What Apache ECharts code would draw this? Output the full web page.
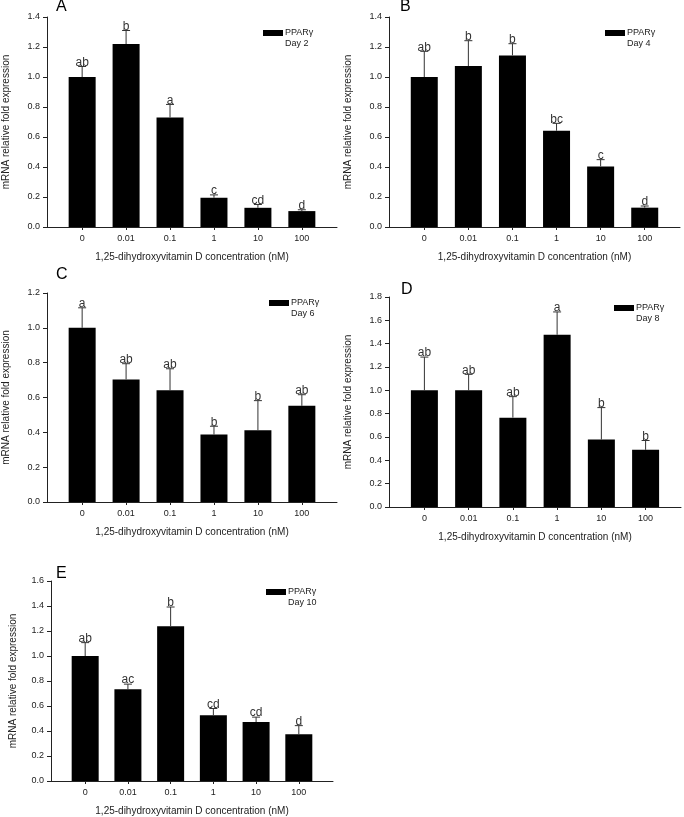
<!DOCTYPE html>
<html>
<head>
<meta charset="utf-8">
<script src="https://cdn.jsdelivr.net/npm/echarts@6/dist/echarts.min.js"></script>
<style>
  html, body { margin: 0; padding: 0; background: #fff; }
  #chart { width: 684px; height: 817px; }
</style>
</head>
<body>
<div id="chart"></div>
<script>
// concentrations (nM)
const categories = ['0', '0.01', '0.1', '1', '10', '100'];

// panel A - day 2
const meanA = [1.00, 1.22, 0.73, 0.195, 0.128, 0.106];
const seA   = [0.07, 0.09, 0.087, 0.019, 0.022, 0.009];
const sigA  = ['ab', 'b', 'a', 'c', 'cd', 'd'];
// panel B - day 4
const meanB = [1.00, 1.073, 1.144, 0.642, 0.404, 0.129];
const seB   = [0.171, 0.169, 0.078, 0.049, 0.045, 0.011];
const sigB  = ['ab', 'b', 'b', 'bc', 'c', 'd'];
// panel C - day 6
const meanC = [1.00, 0.704, 0.641, 0.387, 0.412, 0.552];
const seC   = [0.115, 0.09, 0.124, 0.048, 0.17, 0.064];
const sigC  = ['a', 'ab', 'ab', 'b', 'b', 'ab'];
// panel D - day 8
const meanD = [1.00, 1.00, 0.766, 1.476, 0.578, 0.49];
const seD   = [0.285, 0.137, 0.18, 0.196, 0.274, 0.08];
const sigD  = ['ab', 'ab', 'ab', 'a', 'b', 'b'];
// panel E - day 10
const meanE = [1.00, 0.735, 1.239, 0.527, 0.472, 0.374];
const seE   = [0.107, 0.04, 0.153, 0.053, 0.039, 0.069];
const sigE  = ['ab', 'ac', 'b', 'cd', 'cd', 'd'];

const tags = ['A', 'B', 'C', 'D', 'E'];
const days = ['Day 2', 'Day 4', 'Day 6', 'Day 8', 'Day 10'];
const yMaxes = [1.4, 1.4, 1.2, 1.8, 1.6];
const means = [meanA, meanB, meanC, meanD, meanE];
const errs = [seA, seB, seC, seD, seE];
const sigs = [sigA, sigB, sigC, sigD, sigE];

// layout of each panel (pixels)
const layout = [
  { left: 46,  top: 17,  width: 291, height: 210, tagX: 56,  tagY: -1,  legX: 263, legY: 30,  nameGap: 36 },
  { left: 389, top: 17,  width: 291, height: 210, tagX: 400, tagY: -1,  legX: 605, legY: 30,  nameGap: 36 },
  { left: 46,  top: 293, width: 291, height: 209, tagX: 56,  tagY: 267, legX: 269, legY: 300, nameGap: 36 },
  { left: 389, top: 297, width: 292, height: 210, tagX: 401, tagY: 282, legX: 614, legY: 305, nameGap: 36 },
  { left: 51,  top: 581, width: 282, height: 202, tagX: 56,  tagY: 566, legX: 266, legY: 589, nameGap: 33 }
];

const font = 'Liberation Sans, Arial, sans-serif';
const ink = '#222';
const tickPos = categories.map((c, i) => i);

const grid = [], xAxis = [], yAxis = [], series = [], graphic = [];

layout.forEach((L, p) => {
  grid.push({ left: L.left, top: L.top, width: L.width, height: L.height, containLabel: false });
  xAxis.push({
    type: 'value', gridIndex: p, min: -0.8, max: 5.8,
    name: '1,25-dihydroxyvitamin D concentration (nM)',
    nameLocation: 'middle', nameGap: 25,
    nameTextStyle: { fontFamily: font, fontSize: 10, color: ink },
    axisLine: { onZero: false, lineStyle: { color: ink, width: 1 } },
    axisTick: { show: true, customValues: tickPos, length: 3, lineStyle: { color: ink } },
    axisLabel: { customValues: tickPos, formatter: v => categories[Math.round(v)], fontFamily: font, fontSize: 9, color: ink, margin: 7 },
    splitLine: { show: false }
  });
  yAxis.push({
    type: 'value', gridIndex: p, min: 0, max: yMaxes[p], interval: 0.2,
    name: 'mRNA relative fold expression',
    nameLocation: 'middle', nameGap: L.nameGap,
    nameTextStyle: { fontFamily: font, fontSize: 10, color: ink },
    axisLine: { show: true, onZero: false, lineStyle: { color: ink, width: 1 } },
    axisTick: { show: true, length: 4, lineStyle: { color: ink } },
    axisLabel: { formatter: v => v.toFixed(1), fontFamily: font, fontSize: 9, color: ink, margin: 7 },
    splitLine: { show: false }
  });

  const mean = means[p], se = errs[p], sig = sigs[p];
  series.push({
    type: 'bar', xAxisIndex: p, yAxisIndex: p,
    barWidth: 27,
    itemStyle: { color: '#000' },
    data: mean.map((v, i) => [i, v]),
    silent: true
  });
  series.push({
    type: 'custom', xAxisIndex: p, yAxisIndex: p,
    data: mean.map((v, i) => [i, v, se[i]]),
    silent: true, z: 3,
    renderItem: (params, api) => {
      const i = api.value(0), m = api.value(1), s = api.value(2);
      const base = api.coord([i, m]);
      const top = api.coord([i, m + s]);
      return {
        type: 'group',
        children: [
          { type: 'line', shape: { x1: top[0], y1: base[1], x2: top[0], y2: top[1] }, style: { stroke: '#333', lineWidth: 1 } },
          { type: 'line', shape: { x1: top[0] - 4, y1: top[1], x2: top[0] + 4, y2: top[1] }, style: { stroke: '#333', lineWidth: 1 } },
          { type: 'text', x: top[0], y: top[1] + 2,
            style: { text: sig[params.dataIndex], textAlign: 'center', textVerticalAlign: 'bottom', fontFamily: font, fontSize: 12, fill: '#333' } }
        ]
      };
    }
  });

  // panel letter
  graphic.push({ type: 'text', left: L.tagX, top: L.tagY, style: { text: tags[p], fontFamily: font, fontSize: 16, fill: '#000' } });
  // legend box
  graphic.push({ type: 'rect', shape: { x: L.legX, y: L.legY, width: 20, height: 6 }, style: { fill: '#000' } });
  graphic.push({ type: 'text', x: L.legX + 22, y: L.legY + 3,
    style: { text: 'PPARγ', fontFamily: font, fontSize: 9, fill: ink, textVerticalAlign: 'middle' } });
  graphic.push({ type: 'text', x: L.legX + 22, y: L.legY + 14,
    style: { text: days[p], fontFamily: font, fontSize: 9, fill: ink, textVerticalAlign: 'middle' } });
});

const chart = echarts.init(document.getElementById('chart'), null, { renderer: 'canvas' });
chart.setOption({
  animation: false,
  backgroundColor: '#fff',
  grid, xAxis, yAxis, series, graphic
});
</script>
</body>
</html>
